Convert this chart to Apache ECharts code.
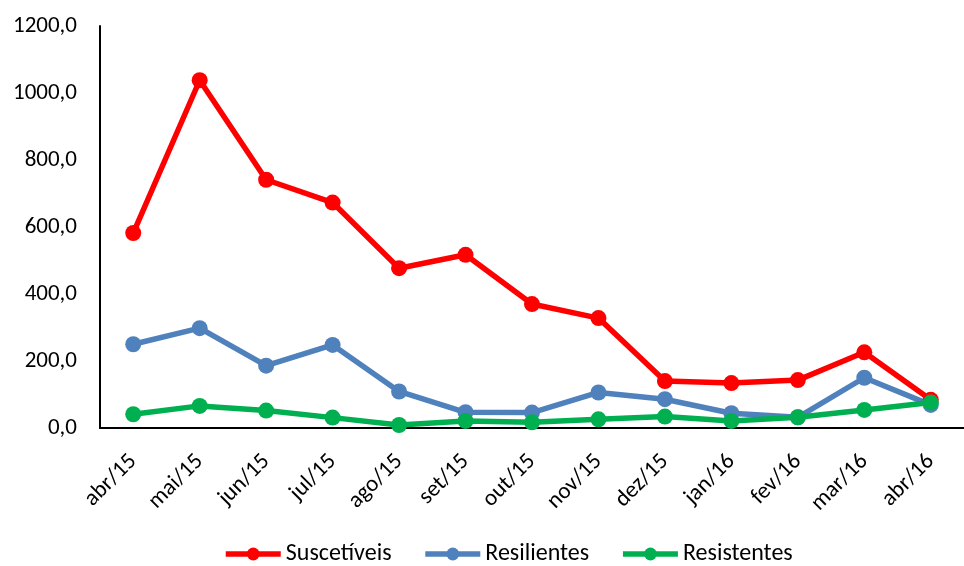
<!DOCTYPE html>
<html>
<head>
<meta charset="utf-8">
<script src="https://cdn.jsdelivr.net/npm/echarts@6/dist/echarts.min.js"></script>
<style>
html,body{margin:0;padding:0;background:#fff;}
#c{width:964px;height:566px;}
</style>
</head>
<body>
<div id="c"></div>
<script>
var categories = ['abr/15','mai/15','jun/15','jul/15','ago/15','set/15','out/15','nov/15','dez/15','jan/16','fev/16','mar/16','abr/16'];
var suscetiveis = [582, 1038, 741, 673, 477, 517, 370, 328, 140, 134, 143, 226, 84];
var resilientes = [250, 298, 186, 248, 109, 47, 46, 106, 86, 44, 32, 150, 69];
var resistentes = [41, 66, 52, 31, 9, 21, 17, 26, 34, 21, 32, 54, 76];
var seriesNames = ['Suscetíveis', 'Resilientes', 'Resistentes'];
var colors = ['#FF0000', '#4F81BD', '#00B050'];

var FONT = 'Carlito, Lato, "Open Sans", sans-serif';
var chart = echarts.init(document.getElementById('c'), null, {renderer: 'canvas'});
function mk(name, data, color) {
  return {
    name: name,
    type: 'line',
    data: data,
    symbol: 'circle',
    symbolSize: 16,
    lineStyle: {color: color, width: 5.5},
    itemStyle: {color: color},
    animation: false
  };
}
chart.setOption({
  animation: false,
  backgroundColor: '#fff',
  grid: {left: 100, right: -12, top: 26, bottom: 138, containLabel: false},
  legend: {
    data: seriesNames,
    top: 542,
    left: 223,
    padding: 0,
    itemWidth: 55,
    itemHeight: 16,
    itemGap: 31,
    lineStyle: {width: 5.5},
    textStyle: {fontFamily: FONT, fontSize: 24, color: '#000'}
  },
  xAxis: {
    type: 'category',
    data: categories,
    boundaryGap: true,
    axisLine: {lineStyle: {color: '#000', width: 2}},
    axisTick: {show: false},
    axisLabel: {rotate: 45, margin: 30, fontFamily: FONT, fontSize: 23, color: '#000', interval: 0}
  },
  yAxis: {
    type: 'value',
    min: 0,
    max: 1200,
    interval: 200,
    axisLine: {show: true, lineStyle: {color: '#000', width: 2}},
    axisTick: {show: false},
    splitLine: {show: false},
    axisLabel: {
      margin: 23,
      fontFamily: FONT,
      fontSize: 23,
      color: '#000',
      formatter: function (v) { return v.toFixed(1).replace('.', ','); }
    }
  },
  series: [
    mk(seriesNames[0], suscetiveis, colors[0]),
    mk(seriesNames[1], resilientes, colors[1]),
    mk(seriesNames[2], resistentes, colors[2])
  ]
});
</script>
</body>
</html>
